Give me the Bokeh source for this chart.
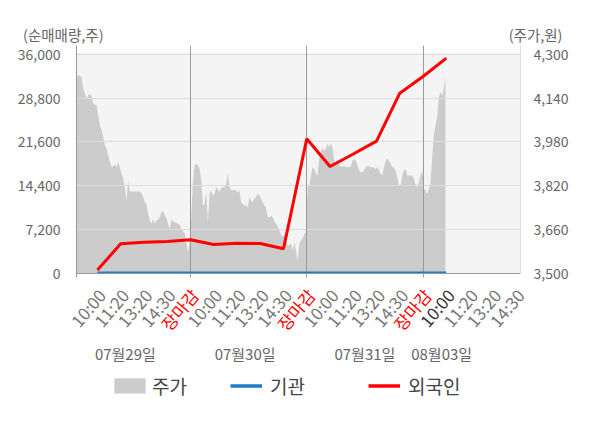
import numpy as np
from bokeh.plotting import figure
from bokeh.layouts import column
from bokeh.models import (Range1d, LinearAxis, FixedTicker, NumeralTickFormatter,
                          Legend, LegendItem)
from bokeh.core.properties import value
from bokeh.embed import file_html
from bokeh.resources import INLINE

FONT = "Noto Sans CJK KR"

# ---------------- data ----------------
DATES = ["07월29일", "07월30일", "07월31일", "08월03일"]
TIME_LABELS = ["10:00", "11:20", "13:20", "14:30", "장마감",
               "10:00", "11:20", "13:20", "14:30", "장마감",
               "10:00", "11:20", "13:20", "14:30", "장마감",
               "10:00", "11:20", "13:20", "14:30"]
TIME_SLOTS = list(range(1, 20))
SLOTS_PER_DAY = 5
SAMPLES_PER_DAY = 70

# net buying (shares) at the label slots
FLOW_SLOTS = list(range(1, 17))
FOREIGN = [500, 4810, 5080, 5190, 5470, 4700, 4910, 4860, 3990,
           22110, 17550, 19600, 21720, 29620, 32380, 35390]
INSTITUTION = [0, 0, 0, 0, 0, 0, 0, 0, 0, 0, 0, 0, 0, 0, 0, 0]

# share price (won), sampled evenly through each session
PRICE_D1 = [4217, 4217, 4224, 4223, 4215, 4174, 4156, 4138, 4152, 4156,
            4146, 4119, 4117, 4113, 4077, 4040, 4022, 3997, 3967, 3955,
            3930, 3906, 3890, 3890, 3897, 3887, 3906, 3887, 3863, 3845,
            3814, 3765, 3839, 3798, 3798, 3798, 3798, 3798, 3798, 3798,
            3792, 3778, 3759, 3753, 3717, 3692, 3680, 3698, 3680, 3692,
            3695, 3704, 3723, 3729, 3711, 3702, 3680, 3662, 3695, 3689,
            3686, 3682, 3680, 3678, 3662, 3653, 3646, 3613, 3576, 3613]
PRICE_D2 = [3704, 3839, 3894, 3900, 3894, 3881, 3839, 3747, 3753, 3796,
            3686, 3790, 3802, 3784, 3790, 3814, 3808, 3796, 3814, 3814,
            3814, 3826, 3863, 3814, 3804, 3804, 3804, 3802, 3796, 3802,
            3759, 3753, 3747, 3747, 3739, 3778, 3765, 3759, 3772, 3778,
            3790, 3784, 3772, 3759, 3747, 3739, 3704, 3704, 3711, 3704,
            3690, 3680, 3670, 3656, 3641, 3631, 3643, 3625, 3601, 3601,
            3609, 3582, 3613, 3582, 3546, 3607, 3619, 3625, 3643, 3650]
PRICE_D3 = [3814, 3820, 3857, 3887, 3881, 3863, 3857, 3918, 3942, 3958,
            3948, 3955, 3973, 3961, 3973, 3961, 3912, 3900, 3912, 3894,
            3890, 3890, 3890, 3890, 3887, 3887, 3890, 3912, 3918, 3912,
            3894, 3875, 3869, 3869, 3875, 3887, 3894, 3890, 3887, 3887,
            3887, 3881, 3887, 3875, 3863, 3857, 3887, 3912, 3918, 3912,
            3900, 3887, 3887, 3875, 3851, 3820, 3820, 3857, 3875, 3881,
            3857, 3857, 3857, 3857, 3845, 3820, 3814, 3833, 3857, 3875]
PRICE_D4 = [3808, 3802, 3790, 3808, 3826, 3924, 4009, 4040, 4070, 4144,
            4162, 4150, 4174, 4219]

LEFT_TICKS = [0, 7200, 14400, 21600, 28800, 36000]
RIGHT_TICKS = [3500, 3660, 3820, 3980, 4140, 4300]
DAY_BOUNDS = [5, 10, 15]
DATE_LABEL_X = [2.2, 7.35, 12.5, 15.8]

# ---------------- derived ----------------
price_x, price_y = [], []
for d, day in enumerate([PRICE_D1, PRICE_D2, PRICE_D3, PRICE_D4]):
    for i, v in enumerate(day):
        price_x.append(d * SLOTS_PER_DAY + (i + 0.5) * SLOTS_PER_DAY / SAMPLES_PER_DAY)
        price_y.append(v)

W = 584
FRAME_L, FRAME_W = 76, 444
X0, X1 = 0.1, 19.19
UNIT = FRAME_W / (X1 - X0)
Y0, Y1 = -80, 37480
TOP_H, MAIN_H, MAIN_PAD, BOT_H = 45, 228, 10, 133

def bare(fig):
    fig.outline_line_color = None
    fig.background_fill_color = "white"
    fig.border_fill_color = "white"
    fig.grid.visible = False
    return fig

# ---------------- top strip: unit titles ----------------
pt = bare(figure(width=W, height=TOP_H, x_range=Range1d(0, W), y_range=Range1d(-TOP_H, 0),
                 min_border=0, x_axis_location=None, y_axis_location=None,
                 frame_align=False, output_backend="svg", toolbar_location=None))
pt.text(x=[22.5], y=[-34], text=["(순매매량,주)"], text_align="left",
        text_baseline="middle", text_color="#666666", text_font=value(FONT),
        text_font_size="14.5px")
pt.text(x=[562], y=[-34], text=["(주가,원)"], text_align="right",
        text_baseline="middle", text_color="#666666", text_font=value(FONT),
        text_font_size="14.5px")

# ---------------- main chart ----------------
p = bare(figure(width=W, height=MAIN_H + MAIN_PAD, x_range=Range1d(X0, X1),
                y_range=Range1d(Y0, Y1), frame_align=False,
                output_backend="svg", toolbar_location=None,
                min_border_left=FRAME_L, min_border_right=W - FRAME_L - FRAME_W,
                min_border_top=0, min_border_bottom=MAIN_PAD))
p.extra_y_ranges = {"price": Range1d(3500 + Y0 / 45, 3500 + Y1 / 45)}

p.quad(left=[X0], right=[X1], bottom=[Y0], top=[36330],
       fill_color="#f4f4f4", line_color=None)
area = p.varea(x=price_x, y1=[3500] * len(price_x), y2=price_y,
               y_range_name="price", fill_color="#cccccc")
p.hspan(y=LEFT_TICKS[1:], line_color="#dddddd", line_width=1)
p.vspan(x=DAY_BOUNDS, line_color="#999999", line_width=1)
p.line(FLOW_SLOTS, INSTITUTION, line_color="#1f7cc8", line_width=3)
p.line(FLOW_SLOTS, FOREIGN, line_color="#ff0000", line_width=3)

ya = p.yaxis[0]
ya.ticker = FixedTicker(ticks=LEFT_TICKS)
ya.formatter = NumeralTickFormatter(format="0,0")
ya.major_tick_line_color = None
ya.minor_tick_line_color = None
ya.axis_line_color = "#999999"
ya.major_label_text_font = FONT
ya.major_label_text_font_size = "14px"
ya.major_label_text_color = "#666666"
ya.major_label_standoff = 10

ra = LinearAxis(y_range_name="price", ticker=FixedTicker(ticks=RIGHT_TICKS),
                formatter=NumeralTickFormatter(format="0,0"))
ra.major_tick_line_color = None
ra.minor_tick_line_color = None
ra.axis_line_color = "#dddddd"
ra.major_label_text_font = FONT
ra.major_label_text_font_size = "14px"
ra.major_label_text_color = "#666666"
ra.major_label_standoff = 7
p.add_layout(ra, "right")

xa = p.xaxis[0]
xa.ticker = FixedTicker(ticks=[], minor_ticks=[X0] + DAY_BOUNDS)
xa.major_tick_line_color = None
xa.minor_tick_out = 4
xa.minor_tick_in = 0
xa.minor_tick_line_color = "#999999"
xa.axis_line_color = "#999999"
xa.major_label_standoff = 0

# ---------------- bottom strip: time labels, dates, legend ----------------
pb = bare(figure(width=W, height=BOT_H,
                 x_range=Range1d(X0 - FRAME_L / UNIT, X0 + (W - FRAME_L) / UNIT),
                 y_range=Range1d(-BOT_H, 0), min_border=0, frame_align=False,
                 x_axis_location=None, y_axis_location=None,
                 output_backend="svg", toolbar_location=None))

colors = []
for i, t in enumerate(TIME_LABELS):
    if t == "장마감":
        colors.append("#ff0000")
    elif i == 15:
        colors.append("#333333")
    else:
        colors.append("#777777")
pb.text(x=TIME_SLOTS, y=[-8] * len(TIME_SLOTS), text=TIME_LABELS, text_color=colors,
        angle=0.87, text_align="right", text_baseline="middle", x_offset=4,
        text_font=value(FONT), text_font_size="17px")
pb.text(x=DATE_LABEL_X, y=[-70] * len(DATES), text=DATES, text_color="#666666",
        text_align="center", text_baseline="middle", text_font=value(FONT),
        text_font_size="15px")

# legend keys (drawn off-canvas; only their styles feed the legend)
OFF = [50, 50]
lg_area = pb.varea(x=[X0, X1], y1=OFF, y2=[60, 60], fill_color="#cccccc")
lg_inst = pb.line(x=[X0, X1], y=OFF, line_color="#1f7cc8", line_width=3.5)
lg_forn = pb.line(x=[X0, X1], y=OFF, line_color="#ff0000", line_width=3.5)

def add_legend(label, rend, loc, gw, standoff):
    lg = Legend(items=[LegendItem(label=label, renderers=[rend])], location=loc,
                orientation="horizontal", padding=0, margin=0, spacing=0,
                border_line_color=None, background_fill_alpha=0,
                glyph_width=gw, glyph_height=19, label_standoff=standoff,
                label_height=19, label_text_font=FONT, label_text_font_size="19px",
                label_text_color="#444444")
    pb.add_layout(lg, "center")

add_legend("주가", lg_area, (110, 17), 39, 3)
add_legend("기관", lg_inst, (230, 17), 32, 8)
add_legend("외국인", lg_forn, (368, 17), 32, 8)

layout = column(pt, p, pb, spacing=0)
open("out.html", "w").write(file_html(layout, INLINE))
